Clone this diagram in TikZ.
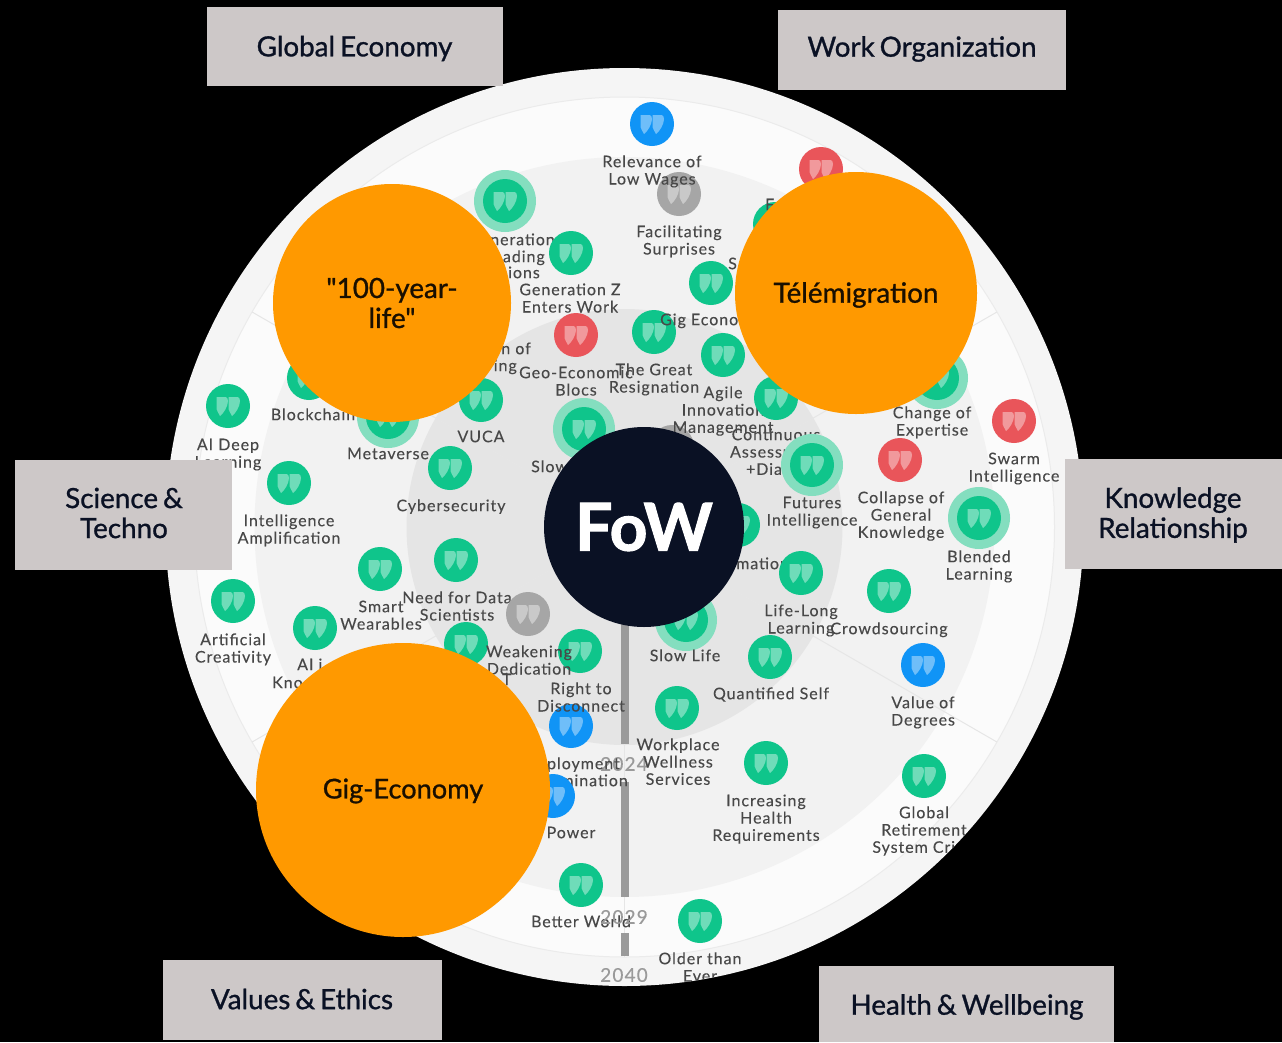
\documentclass[tikz,border=0pt]{standalone}
\usepackage{fontspec}
\usetikzlibrary{calc}
\setmainfont{Lato}
\newfontfamily\headfont[FakeBold=1,WordSpace=0.7]{Lato}
\newfontfamily\fowfont[BoldFeatures={FakeBold=1.5}]{Lato}
\newfontfamily\labfont[LetterSpace=6,FakeBold=0.2]{Lato}
\definecolor{hdrbox}{HTML}{CDC8C8}
\definecolor{orng}{HTML}{FF9900}
\definecolor{navy}{HTML}{0A1124}
\definecolor{grn}{HTML}{0FC58B}
\definecolor{halog}{HTML}{84DEBF}
\definecolor{redb}{HTML}{E9555A}
\definecolor{blub}{HTML}{1094F6}
\definecolor{gryb}{HTML}{A6A6A6}
\definecolor{labc}{HTML}{484848}
\definecolor{yearc}{HTML}{9A9A9A}
\definecolor{spoke}{HTML}{E6E6E6}
\tikzset{
  hdr/.style={fill=hdrbox,draw=none,inner sep=0pt},
  hdrtext/.style={text=navy,align=center,inner sep=0pt,
    font=\headfont\fontsize{27.8}{30}\selectfont},
  bigdot/.style={circle,fill=orng,draw=none,inner sep=0pt},
  bigtext/.style={align=center,inner sep=0pt,text=black!90!orng,
    font=\headfont\fontsize{27.8}{30}\selectfont},
  bubble/.style={circle,draw=none,inner sep=0pt,minimum size=44pt},
  halo/.style={circle,draw=none,inner sep=0pt,minimum size=62pt,fill=halog},
  lbl/.style={inner sep=0pt,text=labc,align=center,font=\labfont\fontsize{16}{17.3}\selectfont},
  yearl/.style={inner sep=0pt,text=yearc,font=\labfont\fontsize{19}{20}\selectfont},
  bar/.style={line width=8pt,color=yearc},
  spokeline/.style={line width=1pt,color=spoke},
  glyph/.pic={
    \foreach \dx in {0,12}{
      \fill[white,opacity=.4,xshift=\dx pt] (-11.5,-9) -- (-2.5,-9)
        .. controls (-1,-9) and (0,-7.5) .. (0,-5)
        .. controls (0,0) and (-4,7) .. (-8,10)
        .. controls (-9.5,7) and (-11,5) .. (-11.5,3) -- cycle;
    }
  }
}
\newcommand{\bub}[4]{\node[bubble,fill=#4] (#1) at (#2,#3) {}; \pic at (#2,#3) {glyph};}
\newcommand{\hbub}[3]{\node[halo] (#1h) at (#2,#3) {}; \node[bubble,fill=grn] (#1) at (#2,#3) {}; \pic at (#2,#3) {glyph};}
\newcommand{\lab}[4]{\node[lbl,anchor=north] (#1) at (#2,{#3-7}) {\rule{0pt}{12pt}#4};}
\newcommand{\labw}[4]{\node[lbl,anchor=north west,align=left] (#1) at (#2,{#3-7}) {\rule{0pt}{12pt}#4};}
\newcommand{\labe}[4]{\node[lbl,anchor=north east,align=right] (#1) at (#2,{#3-7}) {\rule{0pt}{12pt}#4};}
\begin{document}
\begin{tikzpicture}[x=1pt,y=-1pt]
\useasboundingbox (0,0) rectangle (1282,1042);
\fill[black] (0,0) rectangle (1282,1042);
% disc and zones
\coordinate (cen) at (624.5,527);
\fill[color=black!4] (cen) circle[radius=459];
\fill[color=black!1.5] (cen) circle[radius=430];
\draw[color=black!8,line width=1pt] (cen) circle[radius=430];
\fill[color=black!5] (cen) circle[radius=370];
\fill[color=black!10] (cen) circle[radius=218];
\foreach \a/\n in {30/a,90/b,150/c,210/d,270/e,330/f}{
  \coordinate (sp\n) at ($(cen)+(\a:430)$);
}
\foreach \n in {a,b,c,d,f}{\draw[spokeline] (cen) -- (sp\n);}
% time axis
\coordinate (t0) at (624.5,527); \coordinate (t1) at (624.5,744);
\coordinate (t2) at (624.5,782); \coordinate (t3) at (624.5,897);
\coordinate (t4) at (624.5,933); \coordinate (t5) at (624.5,956);
\draw[bar] (t0) -- (t1); \draw[bar] (t2) -- (t3); \draw[bar] (t4) -- (t5);
\begin{scope}
\clip (cen) circle[radius=459];
\node[yearl] (y2040) at (624,975) {2040};
% top
\bub{b01}{652}{124}{blub}
\bub{b02}{679}{194}{gryb}
\lab{l01}{652}{162}{Relevance of\\Low Wages}
\lab{l02}{679}{232}{Facilitating\\Surprises}
\hbub{b03}{505}{201}
\labe{l03a}{555}{240}{neration}
\labe{l03b}{545}{257}{ading}
\labe{l03c}{540}{273}{ions}
\bub{b04}{821}{169}{redb}
\bub{b05}{775}{224}{grn}
\labw{l04}{765}{205}{F}
\labw{l05}{728}{264}{S}
\bub{b06}{576}{335}{redb}
\bub{b07}{571}{253}{grn}
\lab{l06}{570}{290}{Generation Z\\Enters Work}
\bub{b08}{711}{283}{grn}
\bub{b09}{654}{332}{grn}
\labw{l07}{660}{320}{Gig Econo}
\labe{l08a}{531}{349}{n of}
\labe{l08b}{517}{366}{ing}
\lab{l09}{576}{373}{Geo-Economic\\Blocs}
\lab{l10}{654}{370}{The Great\\Resignation}
\bub{b10}{672}{447}{gryb}
\bub{b11}{723}{355}{grn}
\lab{l11}{723}{393}{Agile\\Innovation\\Management}
\bub{b12}{776}{398}{grn}
\lab{l12}{776}{435}{Continuous\\Assessment\\+Dialog}
\hbub{b13}{812}{465}
\lab{l13}{812}{503}{Futures\\Intelligence}
\bub{b14}{900}{460}{redb}
\lab{l14}{901}{498}{Collapse of\\General\\Knowledge}
\hbub{b15}{937}{378}
\lab{l15}{932}{413}{Change of\\Expertise}
\bub{b16}{1014}{421}{redb}
\lab{l16}{1014}{459}{Swarm\\Intelligence}
\hbub{b17}{979}{518}
\lab{l17}{979}{557}{Blended\\Learning}
\bub{b18}{738}{525}{grn}
\labw{l18}{736}{564}{mation}
\bub{b19}{801}{573}{grn}
\lab{l19}{801}{611}{Life-Long\\Learning}
\bub{b20}{889}{591}{grn}
\lab{l20}{889}{629}{Crowdsourcing}
\bub{b21}{923}{665}{blub}
\lab{l21}{923}{703}{Value of\\Degrees}
\hbub{b22}{686}{620}
\lab{l22}{685}{656}{Slow Life}
\bub{b23}{770}{657}{grn}
\lab{l23}{771}{694}{Quantified Self}
\bub{b24}{677}{708}{grn}
\node[yearl] (y2024) at (624,764) {2024};
\lab{l24}{678}{745}{Workplace\\Wellness\\Services}
\bub{b25}{766}{763}{grn}
\lab{l25}{766}{801}{Increasing\\Health\\Requirements}
\bub{b26}{924}{776}{grn}
\lab{l26}{924}{813}{Global\\Retirement\\System Crisis}
\bub{b27}{700}{921}{grn}
\lab{l27}{700}{959}{Older than\\Ever}
% left
\bub{b28}{228}{406}{grn}
\lab{l28}{228}{445}{AI Deep\\Learning}
\bub{b29}{309}{378}{grn}
\lab{l29}{313}{415}{Blockchain}
\hbub{b30}{388}{417}
\lab{l30}{388}{454}{Metaverse}
\bub{b31}{481}{400}{grn}
\lab{l31}{481}{437}{VUCA}
\bub{b32}{450}{468}{grn}
\lab{l32}{451}{506}{Cybersecurity}
\hbub{b33}{584}{429}
\labw{l33}{531}{467}{Slow}
\bub{b34}{289}{483}{grn}
\lab{l34}{289}{521}{Intelligence\\Amplification}
\bub{b35}{380}{569}{grn}
\lab{l35}{381}{607}{Smart\\Wearables}
\bub{b36}{456}{560}{grn}
\lab{l36}{457}{598}{Need for Data\\Scientists}
\bub{b37}{233}{601}{grn}
\lab{l37}{233}{640}{Artificial\\Creativity}
\bub{b38}{315}{628}{grn}
\labw{l38}{297}{665}{AI i}
\labw{l39}{272}{683}{Kno}
\bub{b39}{466}{644}{grn}
\bub{b40}{528}{614}{gryb}
\bub{b41}{580}{651}{grn}
\lab{l40}{529}{652}{Weakening\\Dedication}
\labw{l41}{502}{680}{T}
\bub{b42}{571}{726}{blub}
\lab{l42}{581}{689}{Right to\\Disconnect}
\labe{l43a}{620}{764}{ployment}
\labe{l43b}{628}{781}{mination}
\bub{b43}{553}{796}{blub}
\lab{l44}{571}{833}{Power}
\bub{b44}{581}{885}{grn}
\lab{l45}{581}{922}{Better World}
\node[yearl] (y2029) at (624,917) {2029};
\end{scope}
% orange focus circles
\node[bigdot,minimum size=238pt] (hundred) at (392,303) {};
\node[bigtext] (hundredt) at (392,303) {"100-year-\\life"};
\node[bigdot,minimum size=242pt] (tele) at (856,293) {};
\node[bigtext] (telet) at (856,295) {Télémigration};
\node[bigdot,minimum size=294pt] (gig) at (403,790) {};
\node[bigtext,font=\headfont\fontsize{27.2}{30}\selectfont] (gigt) at (403,791) {Gig-Economy};
% centre
\node[circle,fill=navy,minimum size=200pt,inner sep=0pt,text=white,
  font=\fowfont\bfseries\fontsize{66}{70}\selectfont] (fow) at (644,527) {FoW};
% headers
\node[hdr,minimum width=296pt,minimum height=79pt] (h1) at (355,46.5) {};
\node[hdrtext] (h1t) at (354.5,48.5) {Global Economy};
\node[hdr,minimum width=288pt,minimum height=80pt] (h2) at (922,50) {};
\node[hdrtext] (h2t) at (922,49) {Work Organization};
\node[hdr,minimum width=217pt,minimum height=110pt] (h3) at (123.5,515) {};
\node[hdrtext] (h3t) at (124,513) {Science \&\\Techno};
\node[hdr,minimum width=217pt,minimum height=110pt] (h4) at (1173.5,514) {};
\node[hdrtext] (h4t) at (1173,515) {Knowledge\\Relationship};
\node[hdr,minimum width=279pt,minimum height=80pt] (h5) at (302.5,1000) {};
\node[hdrtext] (h5t) at (302,999) {Values \& Ethics};
\node[hdr,minimum width=295pt,minimum height=76pt] (h6) at (966.5,1004) {};
\node[hdrtext] (h6t) at (967,1007) {Health \& Wellbeing};
\end{tikzpicture}
\end{document}
